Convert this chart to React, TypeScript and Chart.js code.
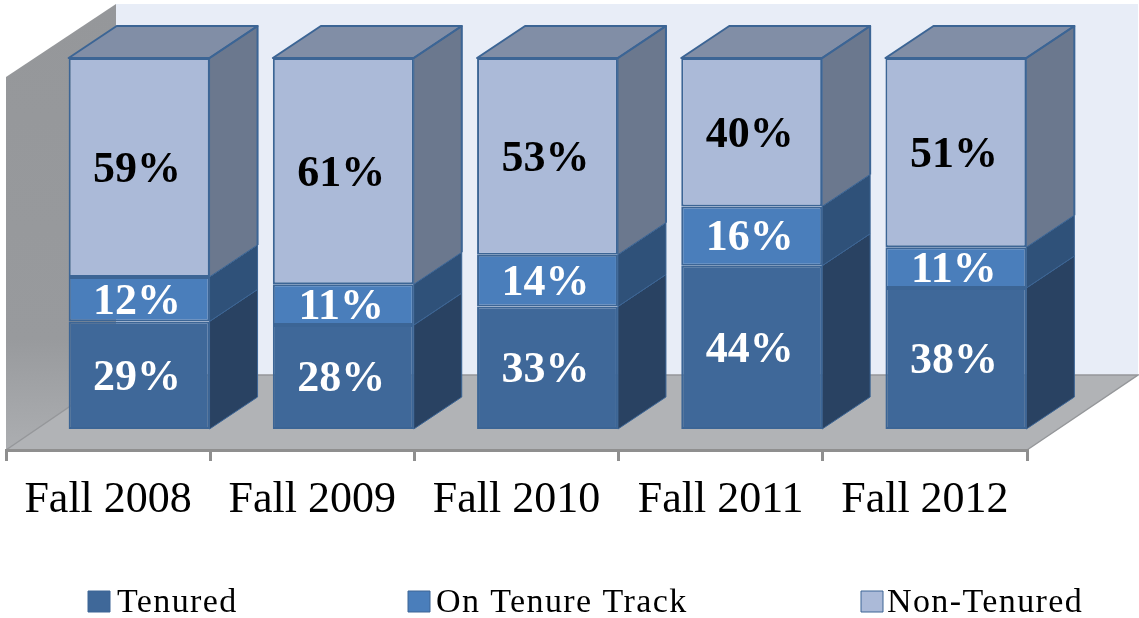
import React, { useEffect, useRef } from "react";
import { Chart, registerables } from "chart.js";

Chart.register(...registerables);

const categories = ["Fall 2008", "Fall 2009", "Fall 2010", "Fall 2011", "Fall 2012"];
const tenured = [29, 28, 33, 44, 38];
const onTenureTrack = [12, 11, 14, 16, 11];
const nonTenured = [59, 61, 53, 40, 51];

const frontColors = ["#3f6899", "#4a7ebb", "#abbad8"];
const sideColors = ["#294262", "#2f5179", "#6b788e"];
const labelColors = ["#ffffff", "#ffffff", "#000000"];
const topColor = "#818ea6";
const edgeColor = "#3c6595";
const serif = "'Liberation Serif', serif";

// 3D geometry
const BAR_SHIFT = { x: 31, y: -21 };
const BAR_DEPTH = { x: 48, y: -32 };
const WALL_DEPTH = { x: 110, y: -75 };
const WALL_TOP = 4;

const legendX = [88, 408, 861];
const legendTextX = [117, 436, 887];
const LEGEND_Y = 591;

function poly(ctx: CanvasRenderingContext2D, pts: number[][], fill: any, stroke?: string, lw = 1) {
  ctx.beginPath();
  pts.forEach(([x, y], i) => (i ? ctx.lineTo(x, y) : ctx.moveTo(x, y)));
  ctx.closePath();
  ctx.fillStyle = fill;
  ctx.fill();
  if (stroke) {
    ctx.strokeStyle = stroke;
    ctx.lineWidth = lw;
    ctx.lineJoin = "round";
    ctx.stroke();
  }
}

const scene3d = {
  id: "scene3d",
  beforeDraw(chart: any) {
    const { ctx, chartArea: a } = chart;
    const { left: l, right: r, bottom: b } = a;
    const bx = l + WALL_DEPTH.x;
    const by = b + WALL_DEPTH.y;
    const wallTopFront = WALL_TOP - WALL_DEPTH.y - 2;
    ctx.save();
    poly(ctx, [[bx, WALL_TOP], [r + WALL_DEPTH.x + 1, WALL_TOP], [r + WALL_DEPTH.x + 1, by], [bx, by]], "#e8edf7");
    const g = ctx.createLinearGradient(0, WALL_TOP, 0, b);
    g.addColorStop(0, "#95979a");
    g.addColorStop(0.75, "#989a9d");
    g.addColorStop(1, "#acaeb1");
    poly(ctx, [[l, b], [l, wallTopFront], [bx, WALL_TOP], [bx, by]], g);
    poly(ctx, [[l, b], [bx, by], [r + WALL_DEPTH.x + 1, by], [r, b]], "#b1b3b6");
    ctx.strokeStyle = "#95979a";
    ctx.lineWidth = 1.5;
    ctx.beginPath();
    ctx.moveTo(l, b);
    ctx.lineTo(bx, by);
    ctx.lineTo(r + WALL_DEPTH.x + 1, by);
    ctx.lineTo(r, b);
    ctx.stroke();
    ctx.restore();
  },
  beforeDatasetsDraw(chart: any) {
    const { ctx } = chart;
    ctx.save();
    ctx.translate(BAR_SHIFT.x, BAR_SHIFT.y);
    const dx = BAR_DEPTH.x;
    const dy = BAR_DEPTH.y;
    chart.data.datasets.forEach((_: any, d: number) => {
      chart.getDatasetMeta(d).data.forEach((el: any) => {
        const p = el.getProps(["x", "y", "base", "width"], true);
        const right = p.x + p.width / 2;
        const left = p.x - p.width / 2;
        poly(ctx, [[right, p.base], [right + dx, p.base + dy], [right + dx, p.y + dy], [right, p.y]], sideColors[d], edgeColor, 1);
        if (d === chart.data.datasets.length - 1) {
          poly(ctx, [[left, p.y], [left + dx, p.y + dy], [right + dx, p.y + dy], [right, p.y]], topColor, edgeColor, 2);
          ctx.beginPath();
          ctx.moveTo(right, p.y);
          ctx.lineTo(right + dx, p.y + dy);
          ctx.lineTo(right + dx, p.base + dy);
          ctx.strokeStyle = edgeColor;
          ctx.lineWidth = 2;
          ctx.stroke();
        }
      });
    });
  },
  afterDatasetsDraw(chart: any) {
    const { ctx } = chart;
    ctx.textAlign = "center";
    ctx.textBaseline = "middle";
    ctx.font = `bold 44px ${serif}`;
    chart.data.datasets.forEach((ds: any, d: number) => {
      chart.getDatasetMeta(d).data.forEach((el: any, i: number) => {
        const p = el.getProps(["x", "y", "base"], true);
        ctx.fillStyle = labelColors[d];
        ctx.fillText(`${ds.data[i]}%`, p.x - 2, (p.y + p.base) / 2 + 3);
      });
    });
    ctx.restore();
  },
  afterDraw(chart: any) {
    const { ctx } = chart;
    ctx.save();
    ctx.font = `34px ${serif}`;
    (ctx as any).letterSpacing = "1.4px";
    ctx.textAlign = "left";
    ctx.textBaseline = "alphabetic";
    chart.data.datasets.forEach((ds: any, d: number) => {
      poly(ctx, [[legendX[d], LEGEND_Y], [legendX[d] + 22, LEGEND_Y], [legendX[d] + 22, LEGEND_Y + 21], [legendX[d], LEGEND_Y + 21]], frontColors[d], edgeColor, 1);
      ctx.fillStyle = "#000000";
      ctx.fillText(ds.label, legendTextX[d], 612);
    });
    ctx.restore();
  },
};

export default function App() {
  const ref = useRef<HTMLCanvasElement>(null);
  useEffect(() => {
    const makeSet = (label: string, data: number[], d: number) => ({
      label,
      data,
      backgroundColor: frontColors[d],
      borderColor: edgeColor,
      borderWidth: 2,
      borderSkipped: false,
      clip: false,
      barPercentage: 0.69,
      categoryPercentage: 1,
    });
    const chart = new Chart(ref.current as HTMLCanvasElement, {
      type: "bar",
      data: {
        labels: categories,
        datasets: [
          makeSet("Tenured", tenured, 0),
          makeSet("On Tenure Track", onTenureTrack, 1),
          makeSet("Non-Tenured", nonTenured, 2),
        ],
      },
      plugins: [scene3d],
      options: {
        animation: false,
        responsive: false,
        layout: { padding: { left: 6, right: 112, top: 79, bottom: 0 } },
        plugins: { legend: { display: false }, tooltip: { enabled: false } },
        scales: {
          x: {
            stacked: true,
            afterFit: (s: any) => {
              s.height = 168;
            },
            border: { display: true, color: "#8f8f8f", width: 3 },
            grid: { display: true, drawOnChartArea: false, color: "#8f8f8f", lineWidth: 3, tickLength: 11, offset: true },
            ticks: {
              autoSkip: false,
              maxRotation: 0,
              minRotation: 0,
              padding: 13,
              color: "#000000",
              font: { family: serif, size: 44 },
            },
          },
          y: { stacked: true, display: false, min: 0, max: 100 },
        },
      },
    } as any);
    return () => chart.destroy();
  }, []);
  return (
    <div style={{ position: "absolute", left: 0, top: 0, width: 1139, height: 618, background: "#ffffff" }}>
      <canvas ref={ref} width={1139} height={618} style={{ display: "block" }} />
    </div>
  );
}
